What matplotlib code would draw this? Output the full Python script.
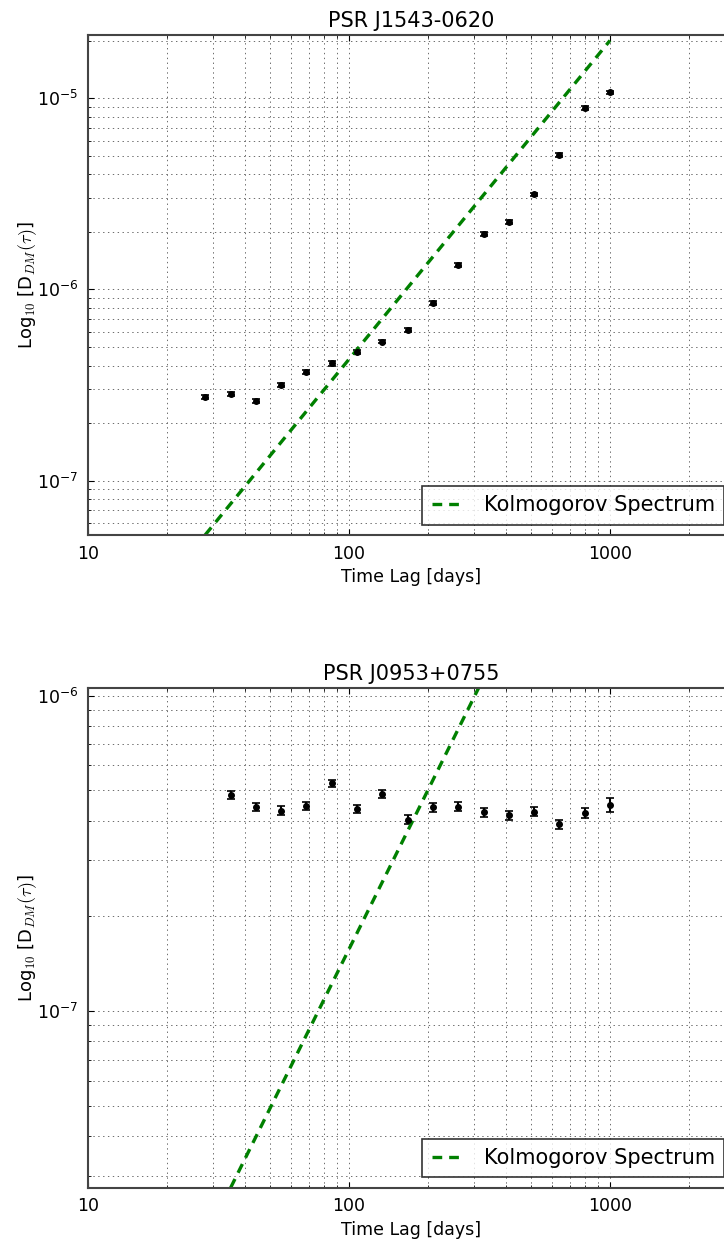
import numpy as np
import matplotlib
matplotlib.use("Agg")
import matplotlib.pyplot as plt
from matplotlib import ticker

plt.rcParams["font.family"] = "DejaVu Sans"
plt.rcParams["mathtext.fontset"] = "cm"
plt.rcParams["axes.unicode_minus"] = False
plt.rcParams["lines.scale_dashes"] = False
plt.rcParams["font.size"] = 12.5

# time lags in days (same grid for both pulsars, J0953 starts one step later)
lag_j1543 = [28.1, 35.2, 44.0, 55.0, 68.7, 85.9, 107.4, 134.2, 167.8, 209.7,
             262.1, 327.7, 409.6, 512.0, 640.0, 800.0, 1000.0]
dm_j1543 = [2.74e-7, 2.84e-7, 2.61e-7, 3.18e-7, 3.71e-7, 4.10e-7, 4.72e-7, 5.34e-7,
            6.12e-7, 8.48e-7, 1.34e-6, 1.95e-6, 2.26e-6, 3.14e-6, 5.05e-6, 8.89e-6, 1.07e-5]
err_j1543 = [7e-9, 8e-9, 7e-9, 8e-9, 9e-9, 1.0e-8, 1.1e-8, 1.2e-8, 1.4e-8, 1.9e-8,
             3.0e-8, 4.4e-8, 5.0e-8, 7.0e-8, 1.1e-7, 2.0e-7, 2.4e-7]
kolmo_x_j1543 = [28.1, 1000.0]
kolmo_y_j1543 = [5.2e-8, 2.0e-5]

lag_j0953 = [35.2, 44.0, 55.0, 68.7, 85.9, 107.4, 134.2, 167.8, 209.7,
             262.1, 327.7, 409.6, 512.0, 640.0, 800.0, 1000.0]
dm_j0953 = [4.84e-7, 4.43e-7, 4.31e-7, 4.46e-7, 5.27e-7, 4.38e-7, 4.87e-7, 4.04e-7,
            4.42e-7, 4.44e-7, 4.26e-7, 4.17e-7, 4.28e-7, 3.90e-7, 4.25e-7, 4.49e-7]
err_j0953 = [1.4e-8, 1.3e-8, 1.4e-8, 1.3e-8, 1.4e-8, 1.3e-8, 1.3e-8, 1.4e-8,
             1.4e-8, 1.4e-8, 1.3e-8, 1.3e-8, 1.4e-8, 1.3e-8, 1.6e-8, 2.3e-8]
kolmo_x_j0953 = [35.2, 1000.0]
kolmo_y_j0953 = [2.75e-8, 7.3e-6]


def panel(ax, name, lag, dm, err, kx, ky):
    ax.errorbar(lag, dm, yerr=err, fmt="o", color="k", ms=4, capsize=3,
                elinewidth=1.5, capthick=1.2)
    ax.plot(kx, ky, color="green", lw=2.4, dashes=(7, 5), label="Kolmogorov Spectrum")
    ax.set_xscale("log")
    ax.set_yscale("log")
    ax.set_xlim(10, 3000)
    ax.set_ylim(ky[0], 2 * max(dm))
    ax.xaxis.set_major_formatter(ticker.FormatStrFormatter("%d"))
    ax.xaxis.set_minor_formatter(ticker.NullFormatter())
    ax.yaxis.set_minor_formatter(ticker.NullFormatter())
    ax.tick_params(which="both", direction="in", top=True, right=True)
    ax.tick_params(which="major", length=4.5, pad=7)
    ax.tick_params(which="minor", length=2.5)
    ax.grid(True, which="both", color="#555555", lw=0.6, dashes=(1, 2.5))
    for s in ax.spines.values():
        s.set_color("#444444")
        s.set_linewidth(1.5)
    ax.set_title(name, fontsize=15, pad=6)
    ax.set_xlabel("Time Lag [days]")
    ax.set_ylabel(r"Log$_{10}$ [D$_{DM}(\tau)$]", fontsize=13)
    leg = ax.legend(loc="lower right", fontsize=15, fancybox=False,
                    handlelength=1.5, handletextpad=1.0, borderpad=0.45)
    leg.get_frame().set_edgecolor("k")
    leg.get_frame().set_linewidth(1.2)


fig = plt.figure(figsize=(7.24, 12.4), dpi=100)
ax1 = fig.add_axes([88 / 724, 1 - 535 / 1240, 646.5 / 724, 500.1 / 1240])
ax2 = fig.add_axes([88 / 724, 1 - 1187.7 / 1240, 646.5 / 724, 499.4 / 1240])

panel(ax1, "PSR J1543-0620", lag_j1543, dm_j1543, err_j1543, kolmo_x_j1543, kolmo_y_j1543)
panel(ax2, "PSR J0953+0755", lag_j0953, dm_j0953, err_j0953, kolmo_x_j0953, kolmo_y_j0953)

for ax in (ax1, ax2):
    ax.yaxis.set_label_coords(-0.076, 0.5)

fig.savefig("out.png", dpi=100)
